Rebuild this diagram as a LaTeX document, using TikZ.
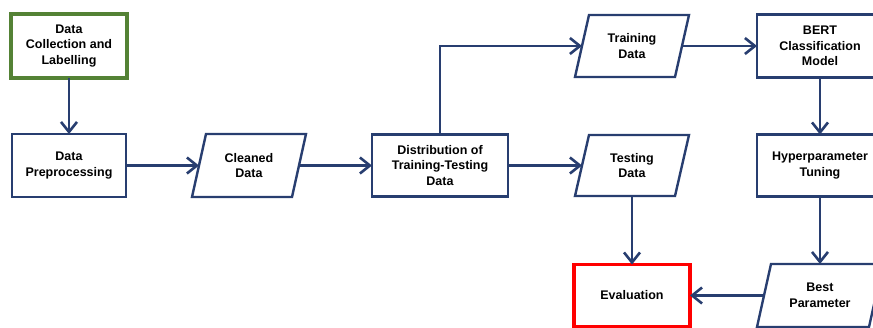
\documentclass[tikz,border=0pt]{standalone}
\usepackage{fontspec}
\setmainfont{Liberation Sans}
\usetikzlibrary{arrows.meta}
\definecolor{fblue}{RGB}{40,62,112}
\definecolor{fgreen}{RGB}{84,130,53}
\definecolor{fred}{RGB}{255,0,0}
\tikzset{
  box/.style={draw=fblue, line width=2.4pt, fill=white, inner sep=0pt, outer sep=0pt,
    align=center, font=\bfseries\fontsize{12.5}{15.5}\selectfont},
  parabox/.style={draw=none, inner sep=0pt, outer sep=0pt, minimum width=100pt,
    align=center, font=\bfseries\fontsize{12.5}{15.5}\selectfont},
  paraline/.style={draw=fblue, line width=2.4pt, fill=white, line join=miter},
  conn/.style={draw=fblue, line width=2.6pt, -{Straight Barb[length=10pt,width=16pt]}}
}
\begin{document}
\begin{tikzpicture}[x=1pt,y=-1pt]
\useasboundingbox (0,0) rectangle (873,327);
% rectangles
\node[box, draw=fgreen, line width=3.4pt, minimum width=116pt, minimum height=64pt] (coll) at (69,46) {Data\\Collection and\\Labelling};
\node[box, minimum width=114pt, minimum height=63pt] (prep) at (69,165.5) {Data\\Preprocessing};
\node[box, minimum width=136pt, minimum height=62pt] (dist) at (440,165.5) {Distribution of\\Training-Testing\\Data};
\node[box, minimum width=126pt, minimum height=63pt] (bert) at (820,46) {BERT\\Classification\\Model};
\node[box, minimum width=126pt, minimum height=62pt] (hyp) at (820,165.5) {Hyperparameter\\Tuning};
\node[box, draw=fred, line width=3.4pt, minimum width=116pt, minimum height=62pt] (eval) at (632,295.5) {Evaluation};
% parallelograms
\node[parabox, minimum height=63pt] (clean) at (249,165.5) {};
\node[parabox, minimum height=62pt] (train) at (632,46) {};
\node[parabox, minimum height=61pt] (test) at (632,165.5) {};
\node[parabox, minimum width=112pt, minimum height=63pt] (best) at (820,295.5) {};
\foreach \n in {clean,train,test,best}{
  \path[paraline] ([xshift=7pt]\n.north west) -- ([xshift=7pt]\n.north east) -- ([xshift=-7pt]\n.south east) -- ([xshift=-7pt]\n.south west) -- cycle;
}
\node[parabox] at (clean) {Cleaned\\Data};
\node[parabox] at (train) {Training\\Data};
\node[parabox] at (test) {Testing\\Data};
\node[parabox] at (best) {Best\\Parameter};
% connectors
\draw[conn] (coll.south) -- (prep.north);
\draw[conn] (prep.east) -- (clean.west);
\draw[conn] (clean.east) -- (dist.west);
\draw[conn] (dist.north) |- (train.west);
\draw[conn] (dist.east) -- (test.west);
\draw[conn] (train.east) -- (bert.west);
\draw[conn] (bert.south) -- (hyp.north);
\draw[conn] (hyp.south) -- (best.north);
\draw[conn] (test.south) -- (eval.north);
\draw[conn] (best.west) -- (eval.east);
\end{tikzpicture}
\end{document}
